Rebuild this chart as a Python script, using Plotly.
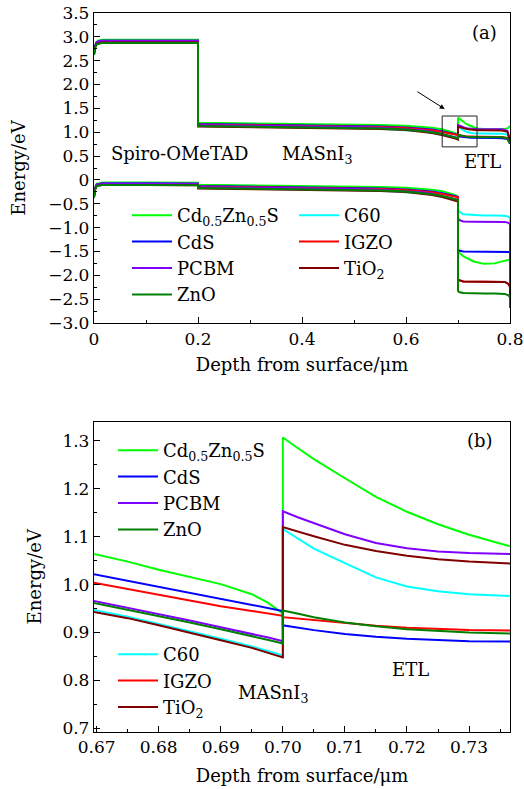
import plotly.graph_objects as go

# ---------------- data ----------------
names = ["Cd<sub>0.5</sub>Zn<sub>0.5</sub>S", "C60", "CdS", "IGZO", "PCBM", "TiO<sub>2</sub>", "ZnO"]
colors = ["#00ff00", "#00ffff", "#0000ff", "#ff0000", "#8000ff", "#800000", "#008000"]

# zoomed region (b): conduction band near MASnI3/ETL interface
x_left = [0.6695, 0.675, 0.68, 0.685, 0.69, 0.695, 0.6975, 0.70]
x_right = [0.70, 0.7025, 0.705, 0.71, 0.715, 0.72, 0.725, 0.73, 0.7366]

ecL_cdzns = [1.064, 1.048, 1.031, 1.016, 1.001, 0.980, 0.963, 0.940]
ecL_c60   = [0.947, 0.933, 0.918, 0.903, 0.887, 0.871, 0.862, 0.852]
ecL_cds   = [1.022, 1.008, 0.995, 0.983, 0.970, 0.958, 0.952, 0.945]
ecL_igzo  = [1.004, 0.991, 0.979, 0.967, 0.955, 0.945, 0.940, 0.935]
ecL_pcbm  = [0.966, 0.952, 0.938, 0.925, 0.911, 0.898, 0.890, 0.882]
ecL_tio2  = [0.943, 0.930, 0.915, 0.900, 0.884, 0.868, 0.858, 0.848]
ecL_zno   = [0.962, 0.948, 0.934, 0.921, 0.907, 0.893, 0.885, 0.877]

ecR_cdzns = [1.307, 1.284, 1.262, 1.222, 1.183, 1.152, 1.126, 1.104, 1.080]
ecR_c60   = [1.116, 1.095, 1.075, 1.045, 1.015, 0.996, 0.986, 0.980, 0.976]
ecR_cds   = [0.915, 0.910, 0.905, 0.897, 0.891, 0.887, 0.884, 0.882, 0.881]
ecR_igzo  = [0.932, 0.929, 0.926, 0.920, 0.914, 0.910, 0.907, 0.905, 0.904]
ecR_pcbm  = [1.153, 1.140, 1.128, 1.105, 1.087, 1.076, 1.069, 1.066, 1.064]
ecR_tio2  = [1.120, 1.110, 1.101, 1.083, 1.070, 1.060, 1.053, 1.048, 1.044]
ecR_zno   = [0.946, 0.939, 0.932, 0.921, 0.913, 0.907, 0.903, 0.900, 0.898]

# full device (a): conduction band, outside the zoomed window
x_ec_head = [0, 0.002, 0.005, 0.01, 0.015, 0.1, 0.2, 0.2, 0.3, 0.4, 0.5, 0.55, 0.6, 0.63, 0.65]
ecH_cdzns = [2.66, 2.82, 2.90, 2.93, 2.94, 2.94, 2.94, 1.20, 1.19, 1.18, 1.165, 1.153, 1.135, 1.115, 1.095]
ecH_c60   = [2.63, 2.78, 2.86, 2.89, 2.90, 2.90, 2.90, 1.13, 1.12, 1.11, 1.09, 1.075, 1.05, 1.02, 0.990]
ecH_cds   = [2.65, 2.80, 2.88, 2.91, 2.92, 2.92, 2.92, 1.17, 1.16, 1.15, 1.135, 1.122, 1.10, 1.077, 1.055]
ecH_igzo  = [2.64, 2.79, 2.87, 2.90, 2.91, 2.91, 2.91, 1.16, 1.15, 1.14, 1.125, 1.112, 1.09, 1.065, 1.040]
ecH_pcbm  = [2.64, 2.80, 2.88, 2.91, 2.92, 2.92, 2.92, 1.15, 1.14, 1.13, 1.11, 1.095, 1.07, 1.04, 1.010]
ecH_tio2  = [2.62, 2.77, 2.85, 2.87, 2.88, 2.88, 2.88, 1.12, 1.11, 1.10, 1.085, 1.07, 1.045, 1.015, 0.985]
ecH_zno   = [2.62, 2.77, 2.84, 2.86, 2.87, 2.87, 2.87, 1.13, 1.12, 1.11, 1.095, 1.08, 1.055, 1.028, 1.000]

x_ec_tail = [0.75, 0.77, 0.785, 0.795, 0.8]
ecT_cdzns = [1.070, 1.065, 1.065, 1.08, 1.13]
ecT_c60   = [0.972, 0.970, 0.968, 0.95, 0.90]
ecT_cds   = [0.880, 0.880, 0.876, 0.86, 0.76]
ecT_igzo  = [0.903, 0.903, 0.900, 0.88, 0.78]
ecT_pcbm  = [1.063, 1.062, 1.060, 1.03, 0.84]
ecT_tio2  = [1.042, 1.041, 1.038, 1.01, 0.80]
ecT_zno   = [0.897, 0.896, 0.893, 0.87, 0.76]

# valence band
x_ev_head = [0, 0.002, 0.005, 0.01, 0.015, 0.1, 0.2, 0.2, 0.3, 0.4, 0.5, 0.55, 0.6, 0.63, 0.65, 0.67, 0.685, 0.695, 0.70]
evH_cdzns = [-0.33, -0.16, -0.08, -0.06, -0.055, -0.055, -0.06, -0.10, -0.11, -0.12, -0.135, -0.147, -0.165, -0.185, -0.205, -0.236, -0.284, -0.32, -0.36]
evH_c60   = [-0.36, -0.20, -0.12, -0.10, -0.095, -0.095, -0.10, -0.17, -0.18, -0.19, -0.21, -0.225, -0.25, -0.28, -0.31, -0.353, -0.397, -0.429, -0.448]
evH_cds   = [-0.34, -0.18, -0.10, -0.08, -0.075, -0.075, -0.08, -0.13, -0.14, -0.15, -0.165, -0.178, -0.20, -0.223, -0.245, -0.278, -0.317, -0.342, -0.355]
evH_igzo  = [-0.35, -0.19, -0.11, -0.09, -0.085, -0.085, -0.09, -0.14, -0.15, -0.16, -0.175, -0.188, -0.21, -0.235, -0.26, -0.296, -0.333, -0.355, -0.365]
evH_pcbm  = [-0.35, -0.18, -0.10, -0.08, -0.075, -0.075, -0.08, -0.15, -0.16, -0.17, -0.19, -0.205, -0.23, -0.26, -0.29, -0.334, -0.375, -0.402, -0.418]
evH_tio2  = [-0.37, -0.21, -0.13, -0.11, -0.105, -0.105, -0.11, -0.18, -0.19, -0.20, -0.215, -0.23, -0.255, -0.285, -0.315, -0.357, -0.400, -0.432, -0.452]
evH_zno   = [-0.37, -0.21, -0.13, -0.11, -0.105, -0.105, -0.11, -0.17, -0.18, -0.19, -0.205, -0.22, -0.245, -0.272, -0.30, -0.338, -0.379, -0.407, -0.423]

x_ev_tail = [0.70, 0.702, 0.71, 0.73, 0.75, 0.77, 0.79, 0.797, 0.8, 0.8]
evT_cdzns = [-1.48, -1.52, -1.60, -1.71, -1.76, -1.75, -1.70, -1.68, -1.67, -2.68]
evT_c60   = [-0.60, -0.66, -0.72, -0.74, -0.745, -0.745, -0.75, -0.77, -0.80, -2.68]
evT_cds   = [-1.46, -1.48, -1.50, -1.50, -1.50, -1.50, -1.50, -1.51, -1.52, -2.68]
evT_igzo  = [-2.08, -2.10, -2.13, -2.13, -2.13, -2.13, -2.14, -2.18, -2.24, -2.68]
evT_pcbm  = [-0.80, -0.84, -0.87, -0.875, -0.875, -0.875, -0.88, -0.90, -0.93, -2.68]
evT_tio2  = [-2.08, -2.10, -2.13, -2.13, -2.13, -2.13, -2.14, -2.18, -2.24, -2.68]
evT_zno   = [-2.32, -2.35, -2.37, -2.38, -2.38, -2.38, -2.39, -2.42, -2.46, -2.68]

# axis ticks
top_x_ticks = [0, 0.2, 0.4, 0.6, 0.8]
top_x_text = ["0", "0.2", "0.4", "0.6", "0.8"]
top_y_ticks = [-3.0, -2.5, -2.0, -1.5, -1.0, -0.5, 0, 0.5, 1.0, 1.5, 2.0, 2.5, 3.0, 3.5]
top_y_text = ["\u22123.0", "\u22122.5", "\u22122.0", "\u22121.5", "\u22121.0", "\u22120.5", "0",
              "0.5", "1.0", "1.5", "2.0", "2.5", "3.0", "3.5"]
bot_x_ticks = [0.67, 0.68, 0.69, 0.70, 0.71, 0.72, 0.73]
bot_y_ticks = [0.7, 0.8, 0.9, 1.0, 1.1, 1.2, 1.3]
top_range_x = [0, 0.8]
top_range_y = [-3.0, 3.5]
bot_range_x = [0.66957, 0.7366]
bot_range_y = [0.693, 1.34]

# ---------------- figure ----------------
ecL = [ecL_cdzns, ecL_c60, ecL_cds, ecL_igzo, ecL_pcbm, ecL_tio2, ecL_zno]
ecR = [ecR_cdzns, ecR_c60, ecR_cds, ecR_igzo, ecR_pcbm, ecR_tio2, ecR_zno]
ecH = [ecH_cdzns, ecH_c60, ecH_cds, ecH_igzo, ecH_pcbm, ecH_tio2, ecH_zno]
ecT = [ecT_cdzns, ecT_c60, ecT_cds, ecT_igzo, ecT_pcbm, ecT_tio2, ecT_zno]
evH = [evH_cdzns, evH_c60, evH_cds, evH_igzo, evH_pcbm, evH_tio2, evH_zno]
evT = [evT_cdzns, evT_c60, evT_cds, evT_igzo, evT_pcbm, evT_tio2, evT_zno]

legend_top = ["legend", "legend2", "legend", "legend2", "legend", "legend2", "legend"]
legend_bot = ["legend3", "legend4", "legend3", "legend4", "legend3", "legend4", "legend3"]

FONT = "DejaVu Serif"
fig = go.Figure()
LW = 2

for i in range(len(names)):
    xs = x_ec_head + x_left + x_right + x_ec_tail + [None] + x_ev_head + x_ev_tail
    ys = ecH[i] + ecL[i] + ecR[i] + ecT[i] + [None] + evH[i] + evT[i]
    fig.add_trace(go.Scatter(x=xs, y=ys, mode="lines", name=names[i],
                             line=dict(color=colors[i], width=LW),
                             xaxis="x", yaxis="y", legend=legend_top[i],
                             connectgaps=False))
for i in range(len(names)):
    xs = x_left + x_right
    ys = ecL[i] + ecR[i]
    fig.add_trace(go.Scatter(x=xs, y=ys, mode="lines", name=names[i],
                             line=dict(color=colors[i], width=LW),
                             xaxis="x2", yaxis="y2", legend=legend_bot[i]))

W, H = 524, 789
dom_x = [94 / W, 510 / W]
axis_common = dict(showline=True, linecolor="black", linewidth=1.3, mirror=True,
                   ticks="inside", ticklen=6, tickwidth=1, tickcolor="black",
                   showgrid=False, zeroline=False, automargin=False,
                   tickfont=dict(family=FONT, size=17, color="black"))

fig.update_layout(
    width=W, height=H, margin=dict(l=0, r=0, t=0, b=0, autoexpand=False),
    paper_bgcolor="white", plot_bgcolor="white",
    font=dict(family=FONT, size=18, color="black"),
    xaxis=dict(domain=dom_x, anchor="y", range=top_range_x, tickvals=top_x_ticks, ticktext=top_x_text,
               minor=dict(ticks="inside", ticklen=3, dtick=0.1, tick0=0, tickcolor="black"),
               title=dict(text="Depth from surface/\u03bcm", font=dict(family=FONT, size=18), standoff=10),
               **axis_common),
    yaxis=dict(domain=[1 - 323 / H, 1 - 13 / H], anchor="x", range=top_range_y,
               tickvals=top_y_ticks, ticktext=top_y_text,
               minor=dict(ticks="inside", ticklen=3, dtick=0.25, tick0=0, tickcolor="black"),
               title=dict(text="Energy/eV", font=dict(family=FONT, size=18), standoff=17),
               **axis_common),
    xaxis2=dict(domain=dom_x, anchor="y2", range=bot_range_x, tickvals=bot_x_ticks, tickformat=".2f",
                minor=dict(ticks="inside", ticklen=3, dtick=0.005, tick0=0.67, tickcolor="black"),
                title=dict(text="Depth from surface/\u03bcm", font=dict(family=FONT, size=18), standoff=13),
                **axis_common),
    yaxis2=dict(domain=[1 - 731.7 / H, 1 - 421.7 / H], anchor="x2", range=bot_range_y,
                tickvals=bot_y_ticks, tickformat=".1f",
                minor=dict(ticks="inside", ticklen=3, dtick=0.05, tick0=0.7, tickcolor="black"),
                title=dict(text="Energy/eV", font=dict(family=FONT, size=18), standoff=16),
                **axis_common),
)

leg_common = dict(xanchor="left", yanchor="top", bgcolor="rgba(0,0,0,0)", borderwidth=0,
                  font=dict(family=FONT, size=18, color="black"), itemwidth=40, tracegroupgap=0)
fig.update_layout(
    legend=dict(x=127 / W, y=1 - 197 / H, **leg_common),
    legend2=dict(x=294 / W, y=1 - 197 / H, **leg_common),
    legend3=dict(x=113 / W, y=1 - 432 / H, **leg_common),
    legend4=dict(x=113 / W, y=1 - 636 / H, **leg_common),
)

# zoom window and arrow on panel (a)
fig.add_shape(type="rect", xref="x", yref="y", x0=bot_range_x[0], x1=bot_range_x[1],
              y0=bot_range_y[0], y1=bot_range_y[1], line=dict(color="#222", width=1))
fig.add_annotation(xref="x", yref="y", axref="x", ayref="y", x=0.6744, y=1.487, ax=0.619, ay=1.871,
                   text="", showarrow=True, arrowhead=2, arrowsize=1, arrowwidth=1, arrowcolor="black")

def label(text, x, y, xr, yr):
    fig.add_annotation(xref=xr, yref=yr, x=x, y=y, text=text, showarrow=False,
                       font=dict(family=FONT, size=18, color="black"))

label("(a)", 0.75, 3.10, "x", "y")
label("Spiro-OMeTAD", 0.165, 0.56, "x", "y")
label("MASnI<sub>3</sub>", 0.429, 0.52, "x", "y")
label("ETL", 0.748, 0.376, "x", "y")
label("(b)", 0.7318, 1.301, "x2", "y2")
label("MASnI<sub>3</sub>", 0.6984, 0.772, "x2", "y2")
label("ETL", 0.7206, 0.823, "x2", "y2")

fig.write_html("out.html")
